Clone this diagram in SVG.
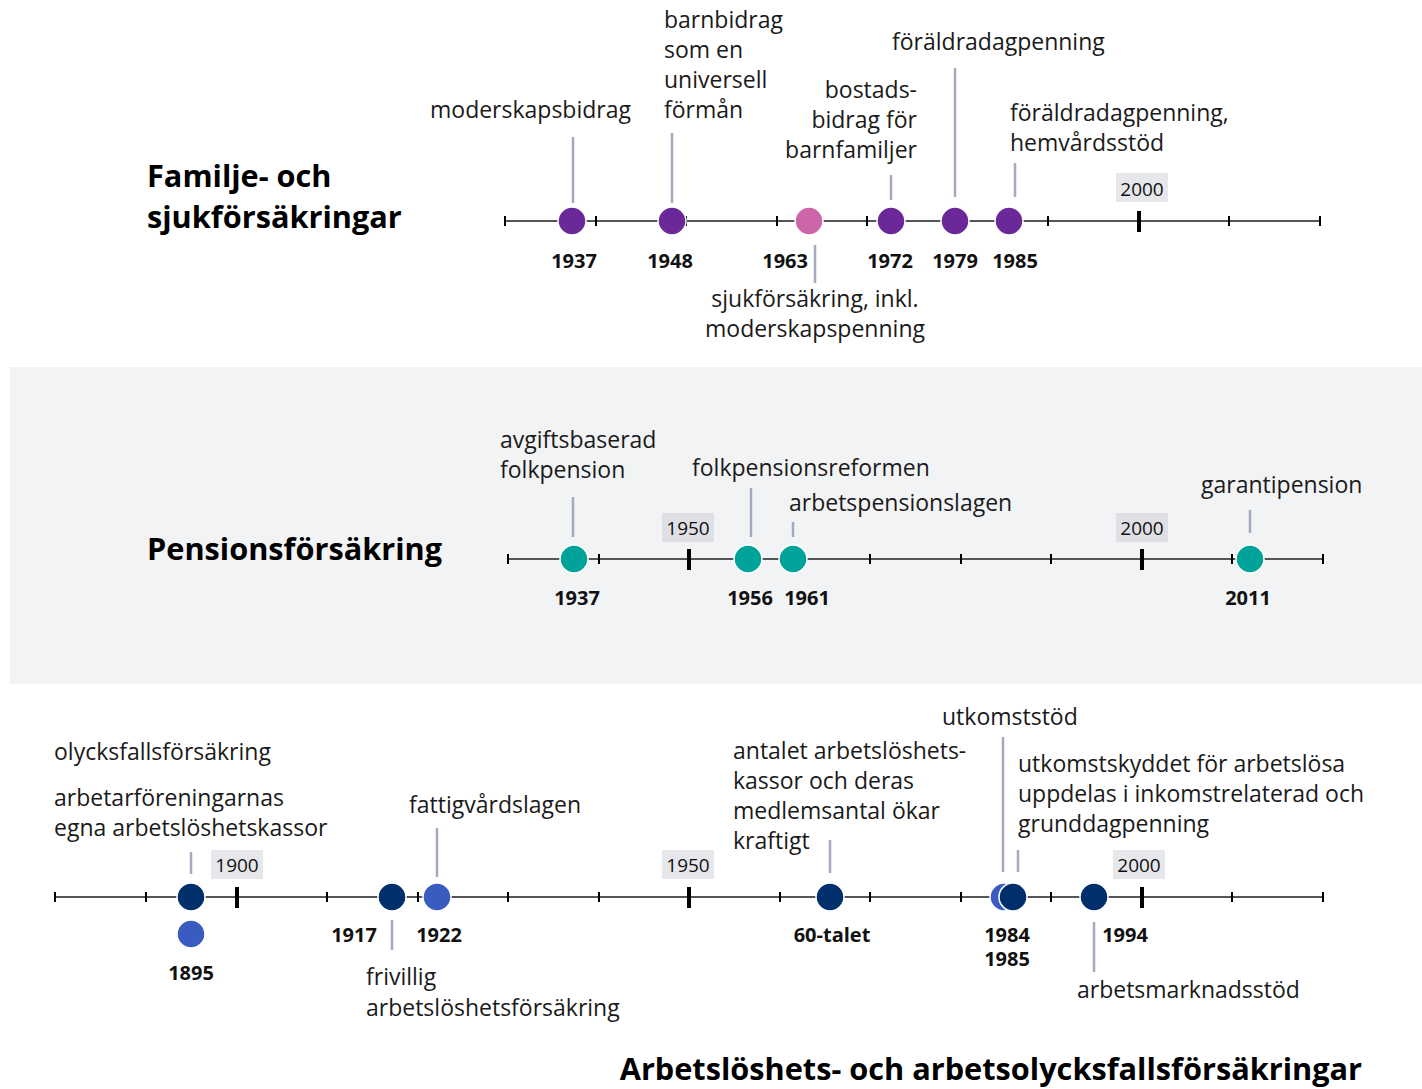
<svg xmlns="http://www.w3.org/2000/svg" width="1422" height="1089" viewBox="0 0 1422 1089">
  <style>
    .lbl { font-family: "Open Sans", "Noto Sans", sans-serif; font-size: 23px; fill: #1a1a1a; }
    .yr { font-family: "Open Sans", "Noto Sans", sans-serif; font-size: 20px; font-weight: 700; fill: #111; }
    .ttl { font-family: "Open Sans", "Noto Sans", sans-serif; font-size: 30.7px; font-weight: 700; fill: #000; }
    .dec { font-family: "Open Sans", "Noto Sans", sans-serif; font-size: 19px; fill: #111; }
    .axis { stroke: #555; stroke-width: 2; }
    .tick { stroke: #000; stroke-width: 2; }
    .major { stroke: #000; stroke-width: 4; }
    .lead { stroke: #a3a9c1; stroke-width: 2.5; }
    .dot { stroke: #fff; stroke-width: 1.5; }
    .purple { fill: #6b2899; }
    .pink { fill: #cc66a8; }
    .teal { fill: #00a39a; }
    .navy { fill: #002f6c; }
    .blue { fill: #3a5bbf; }
    .decbox { fill: #e6e7eb; }
    .decbox-band { fill: #dfe0e5; }
  </style>

  <rect width="1422" height="1089" fill="#fff"/>
  <!-- pension band background -->
  <rect x="10" y="367" width="1412" height="317" fill="#f2f3f5"/>

  <!-- section titles -->
  <g id="title-familj">
    <text class="ttl" x="147" y="187">Familje- och</text>
    <text class="ttl" x="147" y="228">sjukförsäkringar</text>
  </g>
  <g id="title-pension">
    <text class="ttl" x="147" y="560">Pensionsförsäkring</text>
  </g>
  <g id="title-arbete">
    <text class="ttl" x="1362" y="1080" text-anchor="end">Arbetslöshets- och arbetsolycksfallsförsäkringar</text>
  </g>

  <!-- axes -->
  <g id="axis-familj">
    <line class="axis" x1="505" y1="221" x2="1320" y2="221"/>
    <g class="tick">
      <line x1="505" y1="216" x2="505" y2="226"/>
      <line x1="596" y1="216" x2="596" y2="226"/>
      <line x1="686" y1="216" x2="686" y2="226"/>
      <line x1="777" y1="216" x2="777" y2="226"/>
      <line x1="867" y1="216" x2="867" y2="226"/>
      <line x1="958" y1="216" x2="958" y2="226"/>
      <line x1="1048" y1="216" x2="1048" y2="226"/>
      <line x1="1229" y1="216" x2="1229" y2="226"/>
      <line x1="1320" y1="216" x2="1320" y2="226"/>
    </g>
    <line class="major" x1="1139" y1="211" x2="1139" y2="232"/>
    <rect class="decbox" x="1116" y="173" width="52" height="29"/>
    <text class="dec" x="1142" y="196" text-anchor="middle">2000</text>
  </g>

  <g id="axis-pension">
    <line class="axis" x1="508" y1="559" x2="1323" y2="559"/>
    <g class="tick">
      <line x1="508" y1="554" x2="508" y2="564"/>
      <line x1="599" y1="554" x2="599" y2="564"/>
      <line x1="780" y1="554" x2="780" y2="564"/>
      <line x1="870" y1="554" x2="870" y2="564"/>
      <line x1="961" y1="554" x2="961" y2="564"/>
      <line x1="1051" y1="554" x2="1051" y2="564"/>
      <line x1="1232" y1="554" x2="1232" y2="564"/>
      <line x1="1323" y1="554" x2="1323" y2="564"/>
    </g>
    <line class="major" x1="689" y1="549" x2="689" y2="570"/>
    <line class="major" x1="1142" y1="549" x2="1142" y2="570"/>
    <rect class="decbox-band" x="662" y="513" width="52" height="29"/>
    <text class="dec" x="688" y="535" text-anchor="middle">1950</text>
    <rect class="decbox-band" x="1116" y="513" width="52" height="29"/>
    <text class="dec" x="1142" y="535" text-anchor="middle">2000</text>
  </g>

  <g id="axis-arbete">
    <line class="axis" x1="55" y1="897" x2="1323" y2="897"/>
    <g class="tick">
      <line x1="55" y1="892" x2="55" y2="902"/>
      <line x1="146" y1="892" x2="146" y2="902"/>
      <line x1="327" y1="892" x2="327" y2="902"/>
      <line x1="418" y1="892" x2="418" y2="902"/>
      <line x1="508" y1="892" x2="508" y2="902"/>
      <line x1="599" y1="892" x2="599" y2="902"/>
      <line x1="780" y1="892" x2="780" y2="902"/>
      <line x1="870" y1="892" x2="870" y2="902"/>
      <line x1="961" y1="892" x2="961" y2="902"/>
      <line x1="1051" y1="892" x2="1051" y2="902"/>
      <line x1="1232" y1="892" x2="1232" y2="902"/>
      <line x1="1323" y1="892" x2="1323" y2="902"/>
    </g>
    <line class="major" x1="237" y1="887" x2="237" y2="908"/>
    <line class="major" x1="689" y1="887" x2="689" y2="908"/>
    <line class="major" x1="1142" y1="887" x2="1142" y2="908"/>
    <rect class="decbox" x="211" y="850" width="52" height="29"/>
    <text class="dec" x="237" y="872" text-anchor="middle">1900</text>
    <rect class="decbox" x="662" y="850" width="52" height="29"/>
    <text class="dec" x="688" y="872" text-anchor="middle">1950</text>
    <rect class="decbox" x="1113" y="850" width="52" height="29"/>
    <text class="dec" x="1139" y="872" text-anchor="middle">2000</text>
  </g>

  <!-- leader lines from labels to events -->
  <g id="connectors">
    <line class="lead" x1="573" y1="137" x2="573" y2="203"/>
    <line class="lead" x1="672" y1="133" x2="672" y2="203"/>
    <line class="lead" x1="815" y1="245" x2="815" y2="283"/>
    <line class="lead" x1="891" y1="175" x2="891" y2="200"/>
    <line class="lead" x1="955" y1="68" x2="955" y2="197"/>
    <line class="lead" x1="1015" y1="163" x2="1015" y2="197"/>

    <line class="lead" x1="573" y1="497" x2="573" y2="537"/>
    <line class="lead" x1="751" y1="488" x2="751" y2="537"/>
    <line class="lead" x1="793" y1="522" x2="793" y2="537"/>
    <line class="lead" x1="1250" y1="510" x2="1250" y2="533"/>

    <line class="lead" x1="191" y1="852" x2="191" y2="874"/>
    <line class="lead" x1="437" y1="828" x2="437" y2="877"/>
    <line class="lead" x1="392" y1="920" x2="392" y2="950"/>
    <line class="lead" x1="830" y1="840" x2="830" y2="873"/>
    <line class="lead" x1="1003" y1="737" x2="1003" y2="872"/>
    <line class="lead" x1="1018" y1="850" x2="1018" y2="872"/>
    <line class="lead" x1="1094" y1="922" x2="1094" y2="972"/>
  </g>

  <!-- family and sickness insurance events -->
  <g id="f1937">
    <circle class="dot purple" cx="572" cy="221" r="14"/>
    <text class="yr" x="574" y="268" text-anchor="middle">1937</text>
    <text class="lbl" x="430" y="118">moderskapsbidrag</text>
  </g>
  <g id="f1948">
    <circle class="dot purple" cx="672" cy="221" r="14"/>
    <text class="yr" x="670" y="268" text-anchor="middle">1948</text>
    <text class="lbl" x="664" y="28">barnbidrag</text>
    <text class="lbl" x="664" y="58">som en</text>
    <text class="lbl" x="664" y="88">universell</text>
    <text class="lbl" x="664" y="118">förmån</text>
  </g>
  <g id="f1963">
    <circle class="dot pink" cx="809" cy="221" r="14"/>
    <text class="yr" x="808" y="268" text-anchor="end">1963</text>
    <text class="lbl" x="815" y="307" text-anchor="middle">sjukförsäkring, inkl.</text>
    <text class="lbl" x="815" y="337" text-anchor="middle">moderskapspenning</text>
  </g>
  <g id="f1972">
    <circle class="dot purple" cx="891" cy="221" r="14"/>
    <text class="yr" x="890" y="268" text-anchor="middle">1972</text>
    <text class="lbl" x="917" y="98" text-anchor="end">bostads-</text>
    <text class="lbl" x="917" y="128" text-anchor="end">bidrag för</text>
    <text class="lbl" x="917" y="158" text-anchor="end">barnfamiljer</text>
  </g>
  <g id="f1979">
    <circle class="dot purple" cx="955" cy="221" r="14"/>
    <text class="yr" x="955" y="268" text-anchor="middle">1979</text>
    <text class="lbl" x="892" y="50">föräldradagpenning</text>
  </g>
  <g id="f1985">
    <circle class="dot purple" cx="1009" cy="221" r="14"/>
    <text class="yr" x="1015" y="268" text-anchor="middle">1985</text>
    <text class="lbl" x="1010" y="121">föräldradagpenning,</text>
    <text class="lbl" x="1010" y="151">hemvårdsstöd</text>
  </g>

  <!-- pension events -->
  <g id="p1937">
    <circle class="dot teal" cx="574" cy="559" r="14"/>
    <text class="yr" x="577" y="605" text-anchor="middle">1937</text>
    <text class="lbl" x="500" y="448">avgiftsbaserad</text>
    <text class="lbl" x="500" y="478">folkpension</text>
  </g>
  <g id="p1956">
    <circle class="dot teal" cx="748" cy="559" r="14"/>
    <text class="yr" x="750" y="605" text-anchor="middle">1956</text>
    <text class="lbl" x="692" y="476">folkpensionsreformen</text>
  </g>
  <g id="p1961">
    <circle class="dot teal" cx="793" cy="559" r="14"/>
    <text class="yr" x="807" y="605" text-anchor="middle">1961</text>
    <text class="lbl" x="789" y="511">arbetspensionslagen</text>
  </g>
  <g id="p2011">
    <circle class="dot teal" cx="1250" cy="559" r="14"/>
    <text class="yr" x="1248" y="605" text-anchor="middle">2011</text>
    <text class="lbl" x="1201" y="493">garantipension</text>
  </g>

  <!-- unemployment and work injury events -->
  <g id="a1895">
    <circle class="dot navy" cx="191" cy="897" r="14"/>
    <circle class="dot blue" cx="191" cy="934" r="14"/>
    <text class="yr" x="191" y="980" text-anchor="middle">1895</text>
    <text class="lbl" x="54" y="760">olycksfallsförsäkring</text>
    <text class="lbl" x="54" y="806">arbetarföreningarnas</text>
    <text class="lbl" x="54" y="836">egna arbetslöshetskassor</text>
  </g>
  <g id="a1917">
    <circle class="dot navy" cx="392" cy="897" r="14"/>
    <text class="yr" x="354" y="942" text-anchor="middle">1917</text>
    <text class="lbl" x="366" y="985">frivillig</text>
    <text class="lbl" x="366" y="1016">arbetslöshetsförsäkring</text>
  </g>
  <g id="a1922">
    <circle class="dot blue" cx="437" cy="897" r="14"/>
    <text class="yr" x="439" y="942" text-anchor="middle">1922</text>
    <text class="lbl" x="409" y="813">fattigvårdslagen</text>
  </g>
  <g id="a1960s">
    <circle class="dot navy" cx="830" cy="897" r="14"/>
    <text class="yr" x="832" y="942" text-anchor="middle">60-talet</text>
    <text class="lbl" x="733" y="759">antalet arbetslöshets-</text>
    <text class="lbl" x="733" y="789">kassor och deras</text>
    <text class="lbl" x="733" y="819">medlemsantal ökar</text>
    <text class="lbl" x="733" y="849">kraftigt</text>
  </g>
  <g id="a1984">
    <circle class="dot blue" cx="1004" cy="897" r="14"/>
    <text class="lbl" x="942" y="725">utkomststöd</text>
  </g>
  <g id="a1985">
    <circle class="dot navy" cx="1013" cy="897" r="14"/>
    <text class="lbl" x="1018" y="772">utkomstskyddet för arbetslösa</text>
    <text class="lbl" x="1018" y="802">uppdelas i inkomstrelaterad och</text>
    <text class="lbl" x="1018" y="832">grunddagpenning</text>
  </g>
  <!-- shared, stacked year label for 1984 and 1985 -->
  <g id="a1984-1985-years">
    <text class="yr" x="1007" y="942" text-anchor="middle">1984<tspan x="1007" dy="24">1985</tspan></text>
  </g>
  <g id="a1994">
    <circle class="dot navy" cx="1094" cy="897" r="14"/>
    <text class="yr" x="1125" y="942" text-anchor="middle">1994</text>
    <text class="lbl" x="1077" y="998">arbetsmarknadsstöd</text>
  </g>
</svg>
